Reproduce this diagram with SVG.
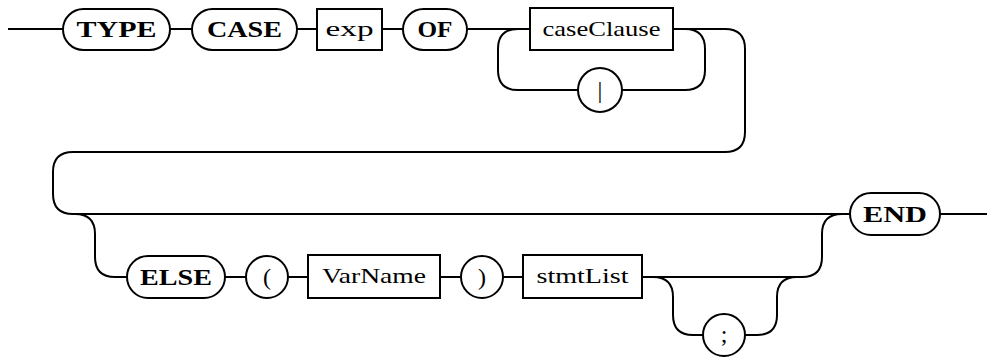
<svg xmlns="http://www.w3.org/2000/svg" width="987" height="360" viewBox="0 0 987 360">
<style>
.shape{fill:#fff;stroke:#000;stroke-width:2}
.line{fill:none;stroke:#000;stroke-width:2}
text{fill:#000}
.kw{font-family:"Liberation Serif","DejaVu Serif",serif;font-weight:bold;font-size:23px;text-anchor:middle}
.nt{font-family:"Liberation Serif","DejaVu Serif",serif;font-size:22px;text-anchor:middle}
.sym{font-family:"Liberation Serif","DejaVu Serif",serif;font-size:24px;text-anchor:middle}
</style>
<rect width="987" height="360" fill="#fff"/>
<g id="connectors">
<path class="line" d="M 8 29 H 63"/>
<path class="line" d="M 170 29 H 192"/>
<path class="line" d="M 297 29 H 317"/>
<path class="line" d="M 382 29 H 403"/>
<path class="line" d="M 467 29 H 530"/>
<path class="line" d="M 518 29 Q 498 29 498 49 V 70 Q 498 90 518 90 H 578"/>
<path class="line" d="M 622 90 H 685 Q 705 90 705 70 V 49 Q 705 29 685 29"/>
<path class="line" d="M 673 29 H 725 Q 745 29 745 49 V 132 Q 745 152 725 152 H 73 Q 53 152 53 172 V 194 Q 53 214 73 214 H 850"/>
<path class="line" d="M 75 214 Q 95 214 95 234 V 257 Q 95 277 115 277 H 127"/>
<path class="line" d="M 225 277 H 246"/>
<path class="line" d="M 288 277 H 308"/>
<path class="line" d="M 440 277 H 461"/>
<path class="line" d="M 503 277 H 523"/>
<path class="line" d="M 642 277 H 802 Q 822 277 822 257 V 234 Q 822 214 842 214"/>
<path class="line" d="M 653 277 Q 673 277 673 297 V 315 Q 673 335 693 335 H 703"/>
<path class="line" d="M 745 335 H 757 Q 777 335 777 315 V 297 Q 777 277 797 277"/>
<path class="line" d="M 940 214 H 987"/>
</g>
<g id="type"><rect class="shape" x="63" y="9" width="107" height="41" rx="20.5"/><text class="kw" x="116.5" y="37" textLength="80" lengthAdjust="spacingAndGlyphs">TYPE</text></g>
<g id="case"><rect class="shape" x="192" y="9" width="105" height="41" rx="20.5"/><text class="kw" x="244.5" y="37" textLength="75" lengthAdjust="spacingAndGlyphs">CASE</text></g>
<g id="exp"><rect class="shape" x="317" y="9" width="65" height="41"/><text class="nt" x="349.5" y="36" textLength="48" lengthAdjust="spacingAndGlyphs">exp</text></g>
<g id="of"><rect class="shape" x="403" y="9" width="64" height="41" rx="20.5"/><text class="kw" x="435" y="37" textLength="35" lengthAdjust="spacingAndGlyphs">OF</text></g>
<g id="caseClause"><rect class="shape" x="530" y="8" width="143" height="42"/><text class="nt" x="601.5" y="36" textLength="118" lengthAdjust="spacingAndGlyphs">caseClause</text></g>
<g id="bar"><circle class="shape" cx="600" cy="90" r="22"/><text class="sym" x="600" y="98">|</text></g>
<g id="else"><rect class="shape" x="127" y="256" width="98" height="42" rx="21"/><text class="kw" x="176" y="285" textLength="72" lengthAdjust="spacingAndGlyphs">ELSE</text></g>
<g id="lparen"><circle class="shape" cx="267" cy="277" r="21"/><text class="sym" x="267" y="285">(</text></g>
<g id="varName"><rect class="shape" x="308" y="255" width="132" height="43"/><text class="nt" x="374" y="283" textLength="104" lengthAdjust="spacingAndGlyphs">VarName</text></g>
<g id="rparen"><circle class="shape" cx="482" cy="277" r="21"/><text class="sym" x="482" y="285">)</text></g>
<g id="stmtList"><rect class="shape" x="523" y="255" width="119" height="43"/><text class="nt" x="582.5" y="283" textLength="92" lengthAdjust="spacingAndGlyphs">stmtList</text></g>
<g id="semicolon"><circle class="shape" cx="724" cy="335" r="21"/><text class="sym" x="724" y="342">;</text></g>
<g id="end"><rect class="shape" x="850" y="193" width="90" height="42" rx="21"/><text class="kw" x="895" y="222" textLength="64" lengthAdjust="spacingAndGlyphs">END</text></g>
</svg>
